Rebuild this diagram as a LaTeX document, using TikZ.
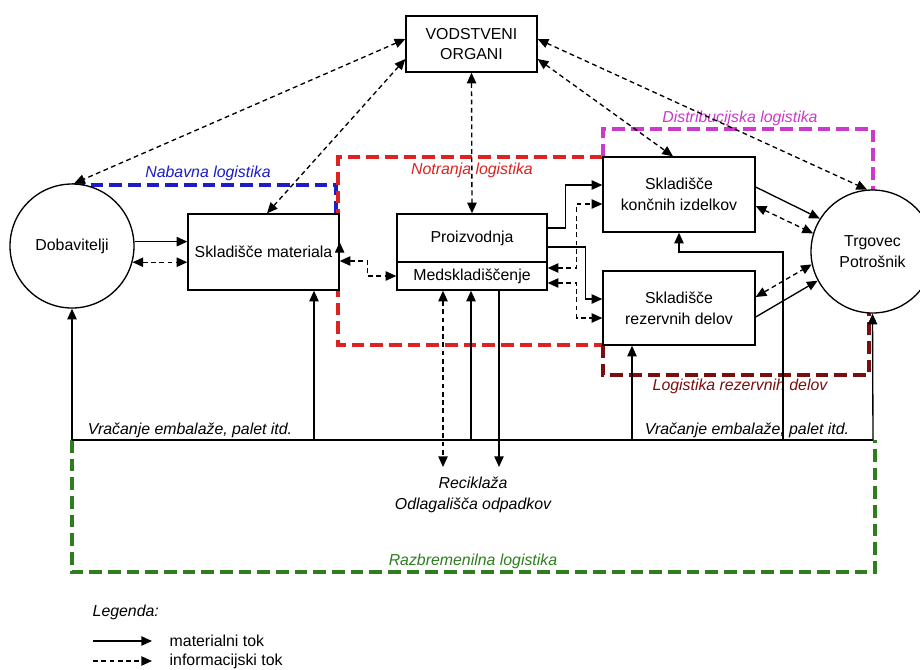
\documentclass[tikz,border=0pt]{standalone}
\usepackage{fontspec}
\setmainfont{Liberation Sans}
\usetikzlibrary{arrows.meta,calc}
\definecolor{nabblue}{HTML}{1C1CC8}
\definecolor{notred}{HTML}{DD2222}
\definecolor{distmag}{HTML}{CC3ACC}
\definecolor{rezred}{HTML}{7A0E0E}
\definecolor{razgreen}{HTML}{2E7D1E}
\begin{document}
\begin{tikzpicture}[x=0.75pt,y=-0.75pt,
 font=\fontsize{11.9}{15.5}\selectfont,
 box/.style={draw,line width=1pt,fill=white,align=center,inner sep=0pt},
 circ/.style={draw,circle,line width=1pt,fill=white,align=center,minimum size=93pt,inner sep=0pt},
 tip/.tip={Triangle[length=8pt,width=7pt]},
 matl/.style={line width=1pt},
 mat/.style={line width=1pt,-tip},
 info/.style={line width=1pt,dash pattern=on 3.6pt off 2.6pt,-tip},
 infob/.style={line width=1pt,dash pattern=on 3.6pt off 2.6pt,tip-tip},
 grp/.style={line width=2.4pt,dash pattern=on 9.5pt off 4.5pt},
 lab/.style={font=\fontsize{11.9}{15.5}\selectfont\itshape}]
\useasboundingbox (0,0) rectangle (920,669);
\clip (0,0) rectangle (920,669);
\fill[white] (0,0) rectangle (920,669);

% group frames
\draw[grp,nabblue] (72,185) -- (336,185) -- (336,214);
\draw[grp,notred] (603,157) -- (338,157) -- (338,345) -- (603,345);
\draw[grp,distmag] (603,157) -- (603,129) -- (873,129) -- (873,190);
\draw[grp,rezred] (603,345) -- (603,375) -- (869,375) -- (869,313);
\draw[grp,razgreen] (72,440) -- (72,572) -- (875,572) -- (875,440);

% frame labels
\node[lab,text=nabblue] (labnab) at (208,173) {Nabavna logistika};
\node[lab,text=notred] (labnot) at (472,170) {Notranja logistika};
\node[lab,text=distmag] (labdist) at (740,118) {Distribucijska logistika};
\node[lab,text=rezred] (labrez) at (740,386) {Logistika rezervnih delov};
\node[lab,text=razgreen] (labraz) at (473,561) {Razbremenilna logistika};
\node[lab] (vr1) at (190,430) {Vračanje embalaže, palet itd.};
\node[lab] (vr2) at (747,430) {Vračanje embalaže, palet itd.};
\node[lab,align=center] (rec) at (473,495) {Reciklaža\\Odlagališča odpadkov};

% return base line
\coordinate (r0) at (72,440);
\coordinate (r1) at (314,440);
\coordinate (r2) at (471,440);
\coordinate (r3) at (632,440);
\coordinate (r4) at (783,440);
\coordinate (r5) at (873,440);
\coordinate (rc1) at (443,467);
\coordinate (rc2) at (499,467);
\coordinate (k1) at (679,252);
\draw[matl] (r0) -- (r5);

% nodes
\node[box,minimum width=98.25pt,minimum height=42pt] (vod) at (471.5,44) {VODSTVENI\\ORGANI};
\node[circ] (dob) at (72,246) {Dobavitelji};
\node[box,minimum width=113.25pt,minimum height=57pt] (sklm) at (263.5,252) {Skladišče materiala};
\node[box,minimum width=112.5pt,minimum height=36pt] (proiz) at (472,238) {Proizvodnja};
\node[box,minimum width=112.5pt,minimum height=21pt] (meds) at (472,276) {Medskladiščenje};
\node[box,minimum width=114pt,minimum height=56.25pt] (konc) at (679,194.5) {Skladišče\\končnih izdelkov};
\node[box,minimum width=114pt,minimum height=55.5pt] (rez) at (679,308) {Skladišče\\rezervnih delov};
\node[circ,minimum size=92.25pt] (trg) at (872.5,251.5) {Trgovec\\Potrošnik};

% management information flows
\draw[infob] ($(vod.west)+(0,-5)$) -- (dob.88);
\draw[infob] ($(vod.west)+(0,15)$) -- ($(sklm.north)+(3.5,0)$);
\draw[infob] ($(vod.east)+(0,-5)$) -- (trg.95);
\draw[infob] ($(vod.east)+(0,15)$) -- ($(konc.north)+(-6,0)$);
\draw[infob] (vod.south) -- (proiz.north);

% supplier
\draw[mat] (dob.4) -- (dob.4 -| sklm.west);
\draw[infob] (dob.-15) -- (dob.-15 -| sklm.west);

% material store to production
\draw[mat] ($(sklm.east)+(0,-10)$) -- ($(sklm.east)+(0,-10)$ -| proiz.west);
\draw[infob] ($(sklm.east)+(0,9)$) -- ++(28,0) |- (meds.west);

% production to stores
\draw[mat] ($(proiz.east)+(0,-10)$) -- ++(18,0) |- ($(konc.west)+(0,-9.5)$);
\draw[mat] ($(proiz.east)+(0,9)$) -- ++(38,0) |- ($(rez.west)+(0,-9)$);
\draw[infob] ($(meds.east)+(0,-8)$) -- ++(29,0) |- ($(konc.west)+(0,9.5)$);
\draw[infob] ($(meds.east)+(0,7)$) -- ++(29,0) |- ($(rez.west)+(0,10)$);

% stores to customer
\draw[mat] ($(konc.east)+(0,-7.5)$) -- (trg.148);
\draw[infob] ($(konc.east)+(0,11.5)$) -- (trg.163);
\draw[infob] ($(rez.east)+(0,-11)$) -- (trg.192);
\draw[mat] ($(rez.east)+(0,9)$) -- (trg.208);

% returns
\draw[mat] (r0) -- (dob.south);
\draw[mat] (r1) -- (r1 |- sklm.south);
\draw[mat] (r2) -- (r2 |- meds.south);
\draw[infob] (rc1 |- meds.south) -- (rc1);
\draw[mat] (rc2 |- meds.south) -- (rc2);
\draw[mat] (r3) -- (r3 |- rez.south);
\draw[mat] (r4) |- (k1) -- (konc.south);
\draw[mat] (r5) -- (trg.south);

% legend
\node[lab,anchor=west] (leg) at (88,612) {Legenda:};
\coordinate (l1a) at (93,641);
\coordinate (l1b) at (152,641);
\coordinate (l2a) at (93,661);
\coordinate (l2b) at (152,661);
\draw[mat] (l1a) -- (l1b);
\draw[info] (l2a) -- (l2b);
\node[anchor=west] (lt1) at (165,641) {materialni tok};
\node[anchor=west] (lt2) at (165,661) {informacijski tok};
\end{tikzpicture}
\end{document}
